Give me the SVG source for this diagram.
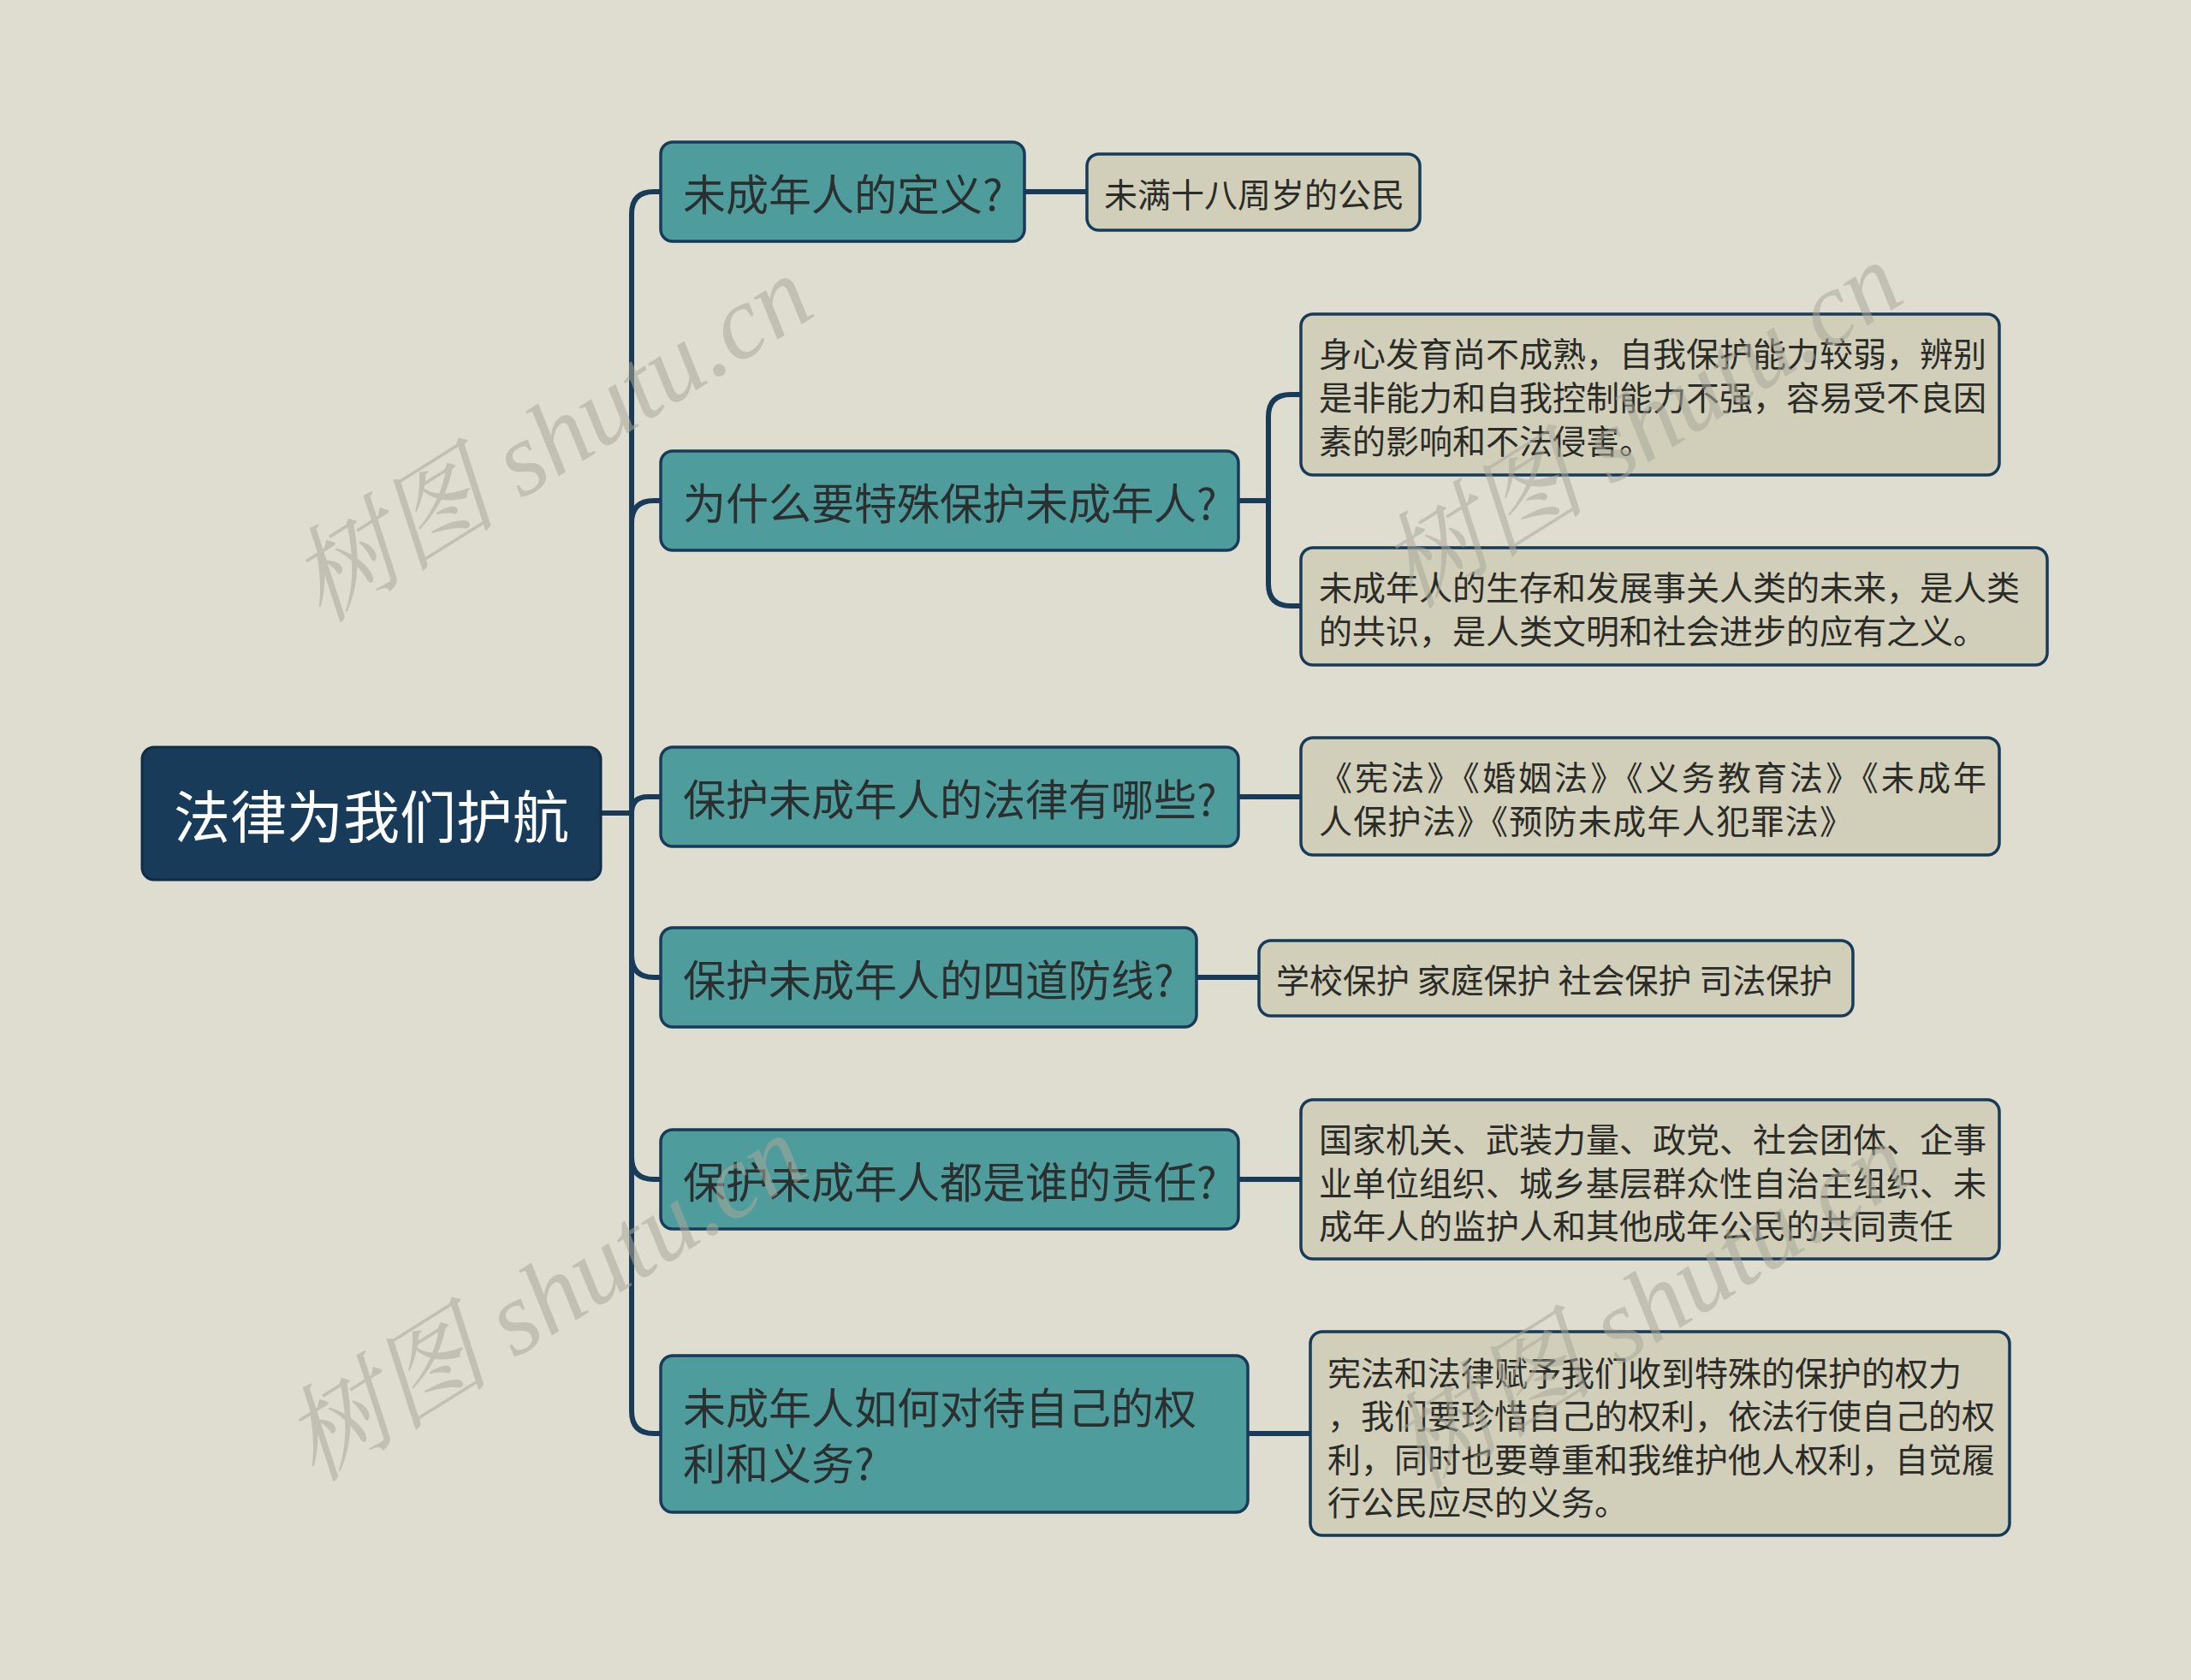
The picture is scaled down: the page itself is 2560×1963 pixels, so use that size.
<svg xmlns="http://www.w3.org/2000/svg" width="2560" height="1963" viewBox="0 0 2560 1963">
<defs>
<style>
.bg{fill:#dfddcf}
.root rect{fill:#173b59;stroke:#112d45;stroke-width:3}
.root text{fill:#ffffff;font-size:66px}
.main rect{fill:#4e9c9b;stroke:#173b59;stroke-width:3.5}
.main text{fill:#2b2f2f;font-size:50px}
.leaf rect{fill:#d1cfb9;stroke:#173b59;stroke-width:3.5}
.leaf text{fill:#2b2b28;font-size:39px}
text{font-family:"Noto Sans CJK SC","Noto Sans",sans-serif;dominant-baseline:central}
.conn path{fill:none;stroke:#173b59;stroke-width:6;stroke-linecap:round}
.wm{font-family:"Liberation Serif","Noto Serif CJK SC","Noto Sans CJK SC",serif;font-style:italic;font-size:122px;fill:#a9a89a;fill-opacity:0.55;dominant-baseline:alphabetic}
</style>
</defs>
<rect class="bg" x="0" y="0" width="2560" height="1963"/>
<g id="connectors" class="conn">
<path d="M702 950 H738"/>
<path d="M738 950 V250 Q738 224 764 224 H772"/>
<path d="M738 950 V611 Q738 585 764 585 H772"/>
<path d="M738 950 Q738 931 757 931 H772"/>
<path d="M738 950 V1116 Q738 1142 764 1142 H772"/>
<path d="M738 950 V1352 Q738 1378 764 1378 H772"/>
<path d="M738 950 V1649 Q738 1675 764 1675 H772"/>
<path d="M1197 224 H1270"/>
<path d="M1447 585 H1482"/>
<path d="M1482 585 V487 Q1482 461 1508 461 H1520"/>
<path d="M1482 585 V682 Q1482 708 1508 708 H1520"/>
<path d="M1447 931 H1520"/>
<path d="M1398 1142 H1471"/>
<path d="M1447 1378 H1520"/>
<path d="M1458 1675 H1531"/>
</g>
<g id="root" class="root">
<rect x="166" y="873" width="536" height="155" rx="14"/>
<text x="434" y="950" text-anchor="middle">法律为我们护航</text>
</g>
<g id="n1" class="main">
<rect x="772" y="166" width="425" height="116" rx="14"/>
<text x="798" y="224">未成年人的定义?</text>
</g>
<g id="n2" class="main">
<rect x="772" y="527" width="675" height="116" rx="14"/>
<text x="798" y="585">为什么要特殊保护未成年人?</text>
</g>
<g id="n3" class="main">
<rect x="772" y="873" width="675" height="116" rx="14"/>
<text x="798" y="931">保护未成年人的法律有哪些?</text>
</g>
<g id="n4" class="main">
<rect x="772" y="1084" width="626" height="116" rx="14"/>
<text x="798" y="1142">保护未成年人的四道防线?</text>
</g>
<g id="n5" class="main">
<rect x="772" y="1320" width="675" height="116" rx="14"/>
<text x="798" y="1378">保护未成年人都是谁的责任?</text>
</g>
<g id="n6" class="main">
<rect x="772" y="1584" width="686" height="183" rx="14"/>
<text x="798" y="1642">未成年人如何对待自己的权</text>
<text x="798" y="1707">利和义务?</text>
</g>
<g id="l1" class="leaf">
<rect x="1270" y="180" width="389" height="89" rx="14"/>
<text x="1290" y="225">未满十八周岁的公民</text>
</g>
<g id="l2a" class="leaf">
<rect x="1520" y="367" width="816" height="188" rx="14"/>
<text x="1541" y="411">身心发育尚不成熟，自我保护能力较弱，辨别</text>
<text x="1541" y="462">是非能力和自我控制能力不强，容易受不良因</text>
<text x="1541" y="513">素的影响和不法侵害。</text>
</g>
<g id="l2b" class="leaf">
<rect x="1520" y="640" width="872" height="137" rx="14"/>
<text x="1541" y="684">未成年人的生存和发展事关人类的未来，是人类</text>
<text x="1541" y="735">的共识，是人类文明和社会进步的应有之义。</text>
</g>
<g id="l3" class="leaf">
<rect x="1520" y="862" width="816" height="137" rx="14"/>
<text x="1541" y="906" textLength="780" lengthAdjust="spacing">《宪法》《婚姻法》《义务教育法》《未成年</text>
<text x="1541" y="957" textLength="624" lengthAdjust="spacing">人保护法》《预防未成年人犯罪法》</text>
</g>
<g id="l4" class="leaf">
<rect x="1471" y="1099" width="694" height="88" rx="14"/>
<text x="1491" y="1143">学校保护 家庭保护 社会保护 司法保护</text>
</g>
<g id="l5" class="leaf">
<rect x="1520" y="1285" width="816" height="186" rx="14"/>
<text x="1541" y="1329">国家机关、武装力量、政党、社会团体、企事</text>
<text x="1541" y="1380">业单位组织、城乡基层群众性自治主组织、未</text>
<text x="1541" y="1430">成年人的监护人和其他成年公民的共同责任</text>
</g>
<g id="l6" class="leaf">
<rect x="1531" y="1556" width="817" height="238" rx="14"/>
<text x="1551" y="1602">宪法和法律赋予我们收到特殊的保护的权力</text>
<text x="1551" y="1652">，我们要珍惜自己的权利，依法行使自己的权</text>
<text x="1551" y="1703">利，同时也要尊重和我维护他人权利，自觉履</text>
<text x="1551" y="1753">行公民应尽的义务。</text>
</g>
<g id="watermarks">
<text class="wm" transform="translate(645 514) rotate(-32)" text-anchor="middle" y="40">树图 shutu.cn</text>
<text class="wm" transform="translate(637 1518) rotate(-32)" text-anchor="middle" y="40">树图 shutu.cn</text>
<text class="wm" transform="translate(1918 498) rotate(-32)" text-anchor="middle" y="40">树图 shutu.cn</text>
<text class="wm" transform="translate(1927 1527) rotate(-32)" text-anchor="middle" y="40">树图 shutu.cn</text>
</g>
</svg>
